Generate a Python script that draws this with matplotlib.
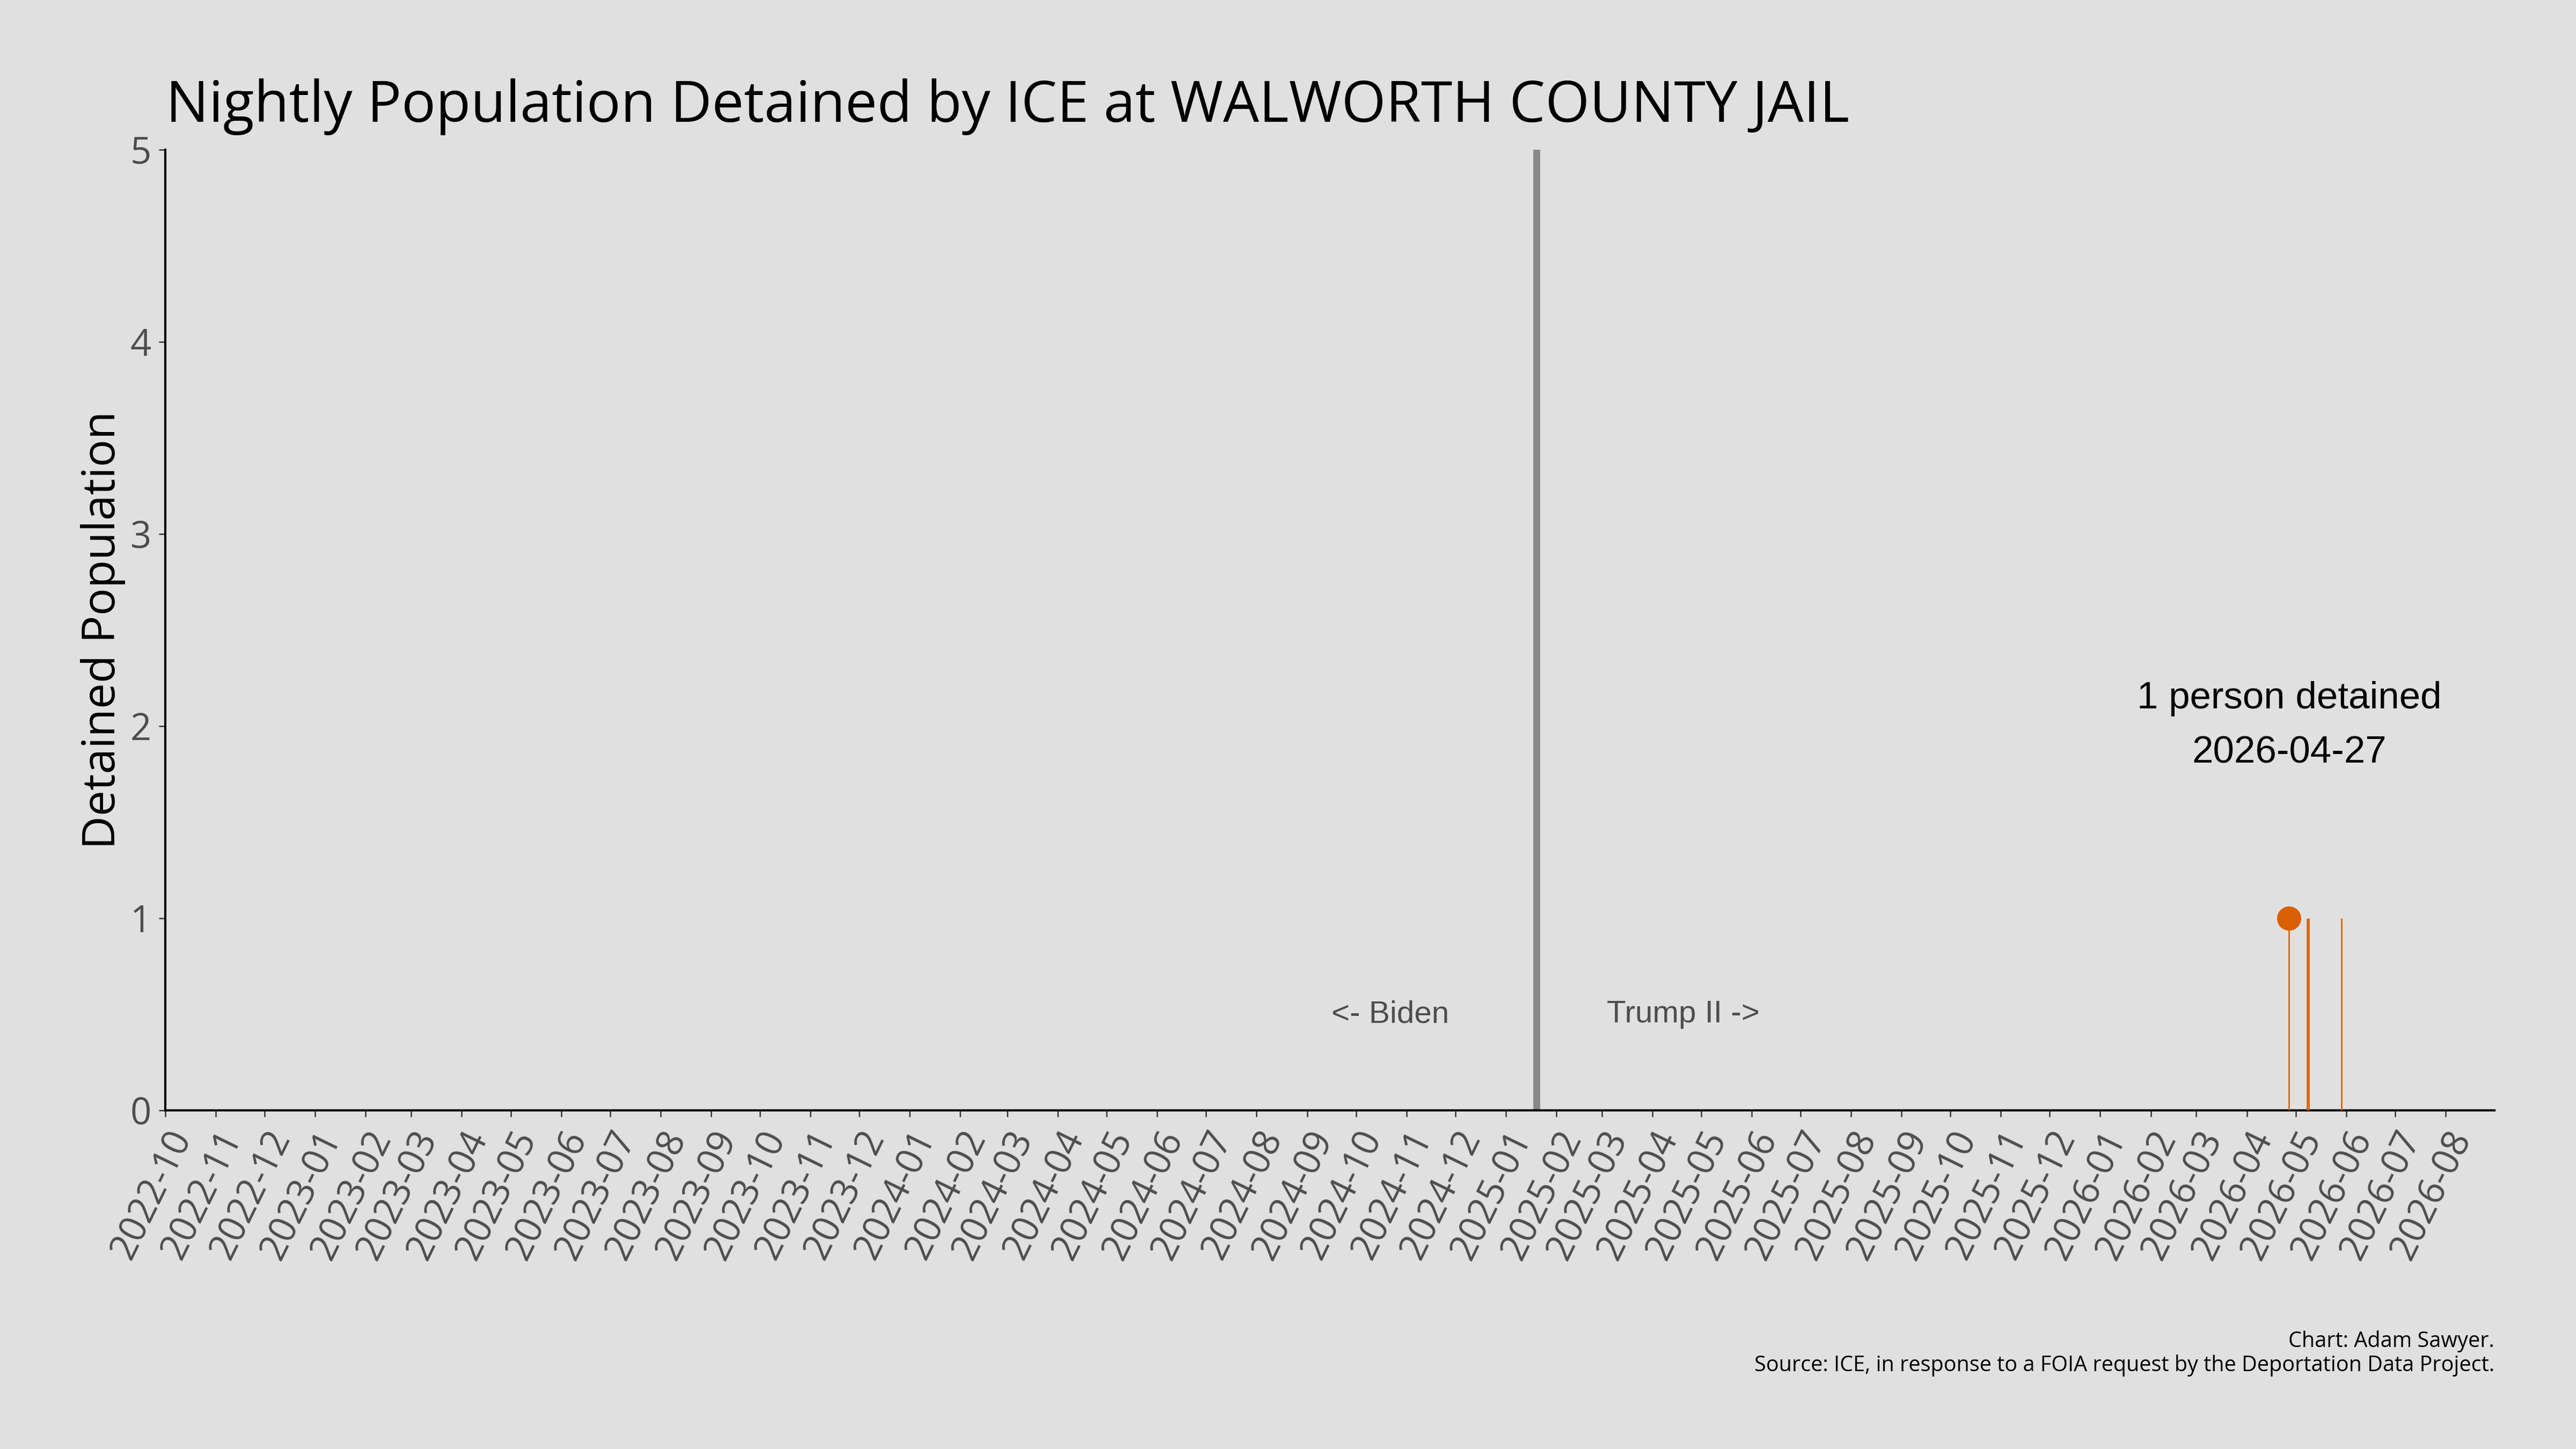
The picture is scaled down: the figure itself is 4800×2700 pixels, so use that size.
"""
Nightly population detained by ICE at one facility.
Values read off the reference chart.
"""
import pandas as pd
import matplotlib
matplotlib.use("Agg")
import matplotlib.pyplot as plt
import matplotlib.dates as mdates

# -*- Data -*-
facility = "WALWORTH COUNTY JAIL"
night_dates = ["2026-04-27", "2026-05-08", "2026-05-09", "2026-05-29"]
night_population = [1, 1, 1, 1]
peak_date = "2026-04-27"
peak_population = 1
inauguration = "2025-01-20"
x_start = "2022-10-01"
x_end = "2026-08-31"
y_ticks = [0, 1, 2, 3, 4, 5]

bg = "#e0e0e0"
orange = "#d95f02"
grey_txt = "#4d4d4d"
sans = ["Open Sans", "DejaVu Sans"]
arial = ["Liberation Sans", "DejaVu Sans"]

plt.rcParams["font.family"] = sans

df = pd.DataFrame({"date": pd.to_datetime(night_dates),
                   "pop": night_population})

fig = plt.figure(figsize=(16, 9), dpi=300, facecolor=bg)
ax = fig.add_axes([0.0642, 0.2337, 0.9041, 0.663])
ax.set_facecolor(bg)

# Spikes for each night with someone detained.
ax.vlines(df["date"], 0, df["pop"], color=orange, lw=0.65, zorder=3)
ax.plot(pd.to_datetime(peak_date), peak_population, "o", color=orange,
        ms=9.8, zorder=4)

# Inauguration line.
t0 = pd.to_datetime(inauguration)
ax.axvline(t0, color="#888888", lw=3.1, zorder=2)
ax.text(t0 - pd.Timedelta(days=90), 0.5, "<- Biden", ha="center",
        va="center", fontsize=14, color=grey_txt, family=arial)
ax.text(t0 + pd.Timedelta(days=90), 0.5, "Trump II ->", ha="center",
        va="center", fontsize=14, color=grey_txt, family=arial)

ax.text(pd.to_datetime(peak_date), 2.0,
        "%d person detained\n%s" % (peak_population, peak_date),
        ha="center", va="center", fontsize=17, color="black",
        family=arial, linespacing=1.7)

ax.set_xlim(pd.to_datetime(x_start), pd.to_datetime(x_end))
ax.set_ylim(0, 5)
ax.set_yticks(y_ticks)
ax.xaxis.set_major_locator(mdates.MonthLocator())
ax.xaxis.set_major_formatter(mdates.DateFormatter("%Y-%m"))

for s in ["top", "right"]:
    ax.spines[s].set_visible(False)
for s in ["left", "bottom"]:
    ax.spines[s].set_color("black")
    ax.spines[s].set_linewidth(1.0)

ax.tick_params(axis="both", colors="#333333", length=2.8, width=0.6,
               labelsize=16.5, labelcolor=grey_txt, pad=3.5)
plt.setp(ax.get_xticklabels(), rotation=64, ha="right",
         rotation_mode="anchor")

ax.set_ylabel("Detained Population", fontsize=20.5, color="black",
              labelpad=2)

fig.text(0.0644, 1 - 227 / 2700,
         "Nightly Population Detained by ICE at " + facility,
         fontsize=25.5, color="black", va="baseline", ha="left")

fig.text(0.9683, 1 - 2510 / 2700, "Chart: Adam Sawyer.", fontsize=9.5,
         ha="right", va="baseline")
fig.text(0.9683, 1 - 2555 / 2700,
         "Source: ICE, in response to a FOIA request by the Deportation "
         "Data Project.", fontsize=9.5, ha="right", va="baseline")

fig.savefig("out.png", dpi=300, facecolor=bg)
